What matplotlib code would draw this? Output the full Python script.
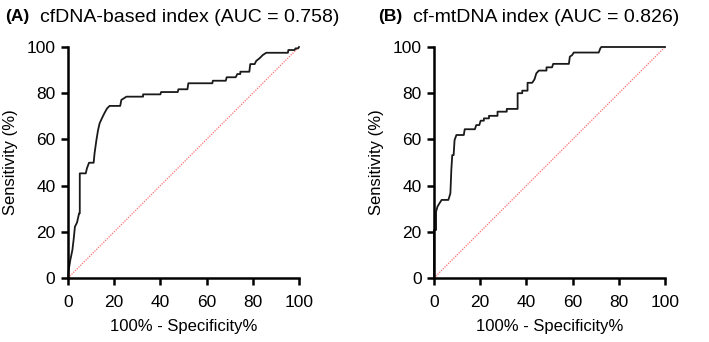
import numpy as np
import matplotlib
matplotlib.use("Agg")
import matplotlib.pyplot as plt

plt.rcParams['font.family'] = ['Liberation Sans', 'DejaVu Sans']

# ROC curve vertices: (100% - specificity, sensitivity)
roc_a = [(0, 0), (0.3, 3.5), (1.0, 7.8), (1.9, 12.1), (2.5, 17.2), (3.0, 22.2),
         (3.9, 24.0), (4.8, 28.0), (5.1, 28.0), (5.1, 45.3), (7.7, 45.3),
         (8.2, 47.5), (9.1, 49.9), (11.1, 49.9), (11.5, 54.0), (12.3, 59.7),
         (13.0, 64.0), (13.7, 67.0), (14.9, 69.6), (15.9, 71.6), (16.9, 73.4),
         (18.0, 74.5), (22.6, 74.5), (23.1, 77.1), (25.3, 78.5), (32.5, 78.5),
         (32.5, 79.5), (40.0, 79.5), (40.3, 80.5), (47.5, 80.5), (47.8, 81.7),
         (51.7, 81.7), (52.1, 84.3), (62.5, 84.3), (62.7, 85.4), (68.3, 85.4),
         (68.7, 86.9), (72.6, 86.9), (73.3, 88.3), (74.6, 88.3), (74.6, 89.3),
         (78.5, 89.3), (78.9, 92.6), (80.8, 92.6), (81.5, 94.0), (82.9, 95.1),
         (84.3, 96.5), (85.8, 97.5), (95.2, 97.5), (95.4, 98.7), (98.1, 98.7),
         (98.5, 99.4), (99.6, 99.4), (100, 100)]

roc_b = [(0, 0), (0, 20.8), (0.9, 20.8), (0.9, 28.7), (1.5, 30.9), (2.4, 32.4),
         (3.3, 33.8), (6.2, 33.8), (6.6, 35.0), (7.1, 36.7), (7.5, 46.8),
         (7.9, 53.2), (8.5, 53.2), (8.9, 59.7), (9.7, 61.9), (12.9, 61.9),
         (13.3, 64.4), (17.7, 64.4), (18.3, 66.2), (19.6, 66.2), (20.2, 68.1),
         (21.6, 68.1), (21.6, 69.1), (23.8, 69.1), (23.8, 70.2), (27.5, 70.2),
         (27.5, 72.0), (31.5, 72.0), (31.5, 73.2), (36.2, 73.2), (36.2, 80.0),
         (38.2, 80.0), (38.2, 81.1), (40.5, 81.1), (40.5, 84.5), (42.5, 84.5),
         (43.5, 86.0), (44.3, 88.6), (45.4, 89.8), (48.7, 89.8), (48.7, 91.2),
         (51.1, 91.2), (51.6, 92.7), (58.4, 92.7), (58.8, 95.8), (59.8, 96.5),
         (60.5, 97.6), (71.3, 97.6), (72.0, 99.4), (72.4, 100), (100, 100)]

panels = [("(A)", "cfDNA-based index (AUC = 0.758)", roc_a),
          ("(B)", "cf-mtDNA index (AUC = 0.826)", roc_b)]
ticks = [0, 20, 40, 60, 80, 100]

W, H = 709, 342
fig = plt.figure(figsize=(W / 100, H / 100), dpi=100)

lefts = [68, 434]
title_x = [(5, 40), (378, 413)]

for i, (tag, title, roc) in enumerate(panels):
    ax = fig.add_axes([lefts[i] / W, (H - 278) / H, 231 / W, 231 / H])
    pts = np.array(roc)
    ax.plot([0, 100], [0, 100], color='#ff7070', lw=0.9, ls=(0, (1, 1)), clip_on=False)
    ax.plot(pts[:, 0], pts[:, 1], color='#1a1a1a', lw=1.3, clip_on=False)
    ax.set_xlim(0, 100)
    ax.set_ylim(0, 100)
    ax.set_xticks(ticks)
    ax.set_yticks(ticks)
    for s in ['top', 'right']:
        ax.spines[s].set_visible(False)
    for s in ['left', 'bottom']:
        ax.spines[s].set_linewidth(1.8)
    ax.tick_params(direction='out', length=5, width=1.8, labelsize=12.5)
    ax.tick_params(axis='x', pad=7)
    ax.tick_params(axis='y', pad=4)
    ax.set_xlabel("100% - Specificity%", fontsize=12, labelpad=7)
    ax.set_ylabel("Sensitivity (%)", fontsize=12, labelpad=6)
    fig.text(title_x[i][0] / W, 1 - 17 / H, tag, fontsize=12.5, fontweight='bold', va='center')
    fig.text(title_x[i][1] / W, 1 - 17 / H, title, fontsize=14, va='center')

fig.savefig("out.png", dpi=100)
